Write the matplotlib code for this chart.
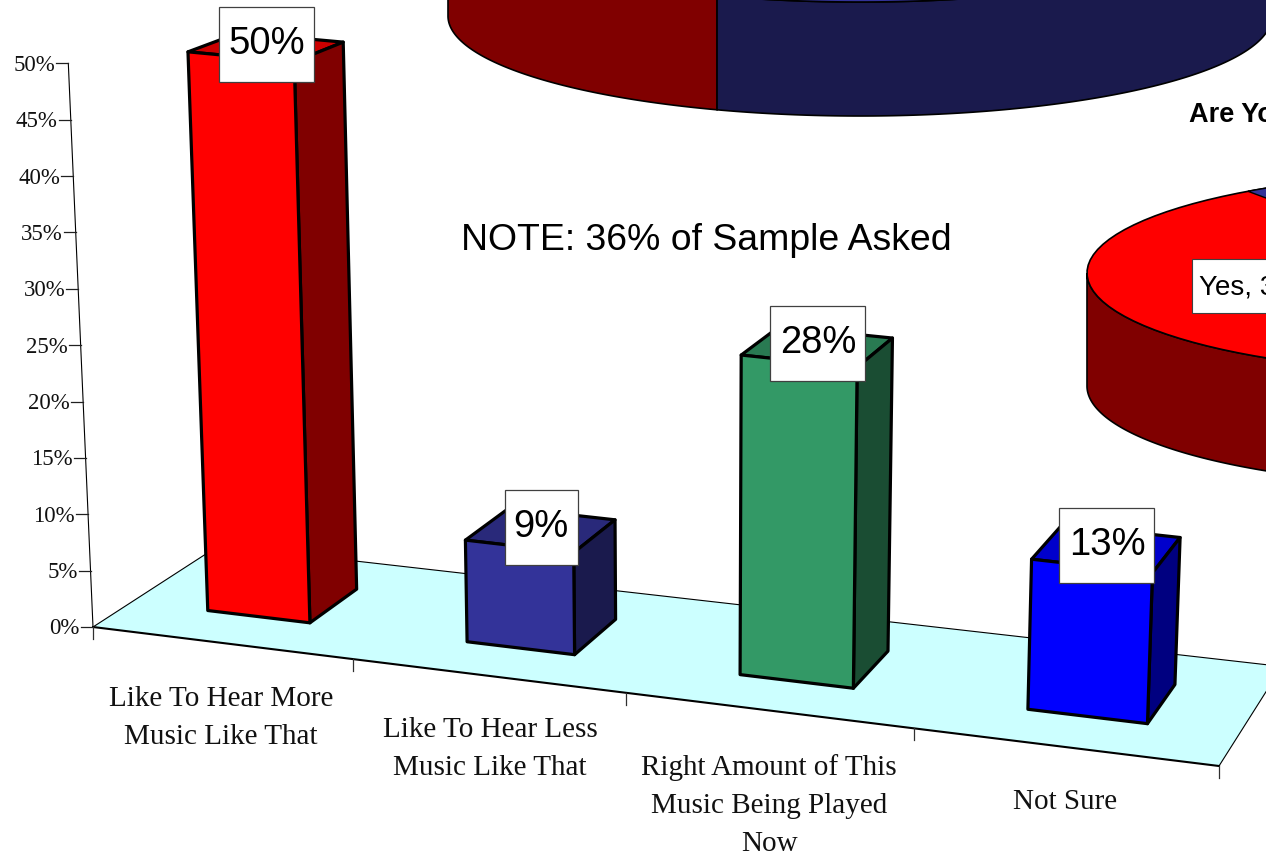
import numpy as np
import matplotlib
matplotlib.use('Agg')
import matplotlib.pyplot as plt
from matplotlib.patches import Polygon, Rectangle

# chart values
categories = ['Like To Hear More\nMusic Like That',
              'Like To Hear Less\nMusic Like That',
              'Right Amount of This\nMusic Being Played\nNow',
              'Not Sure']
values = [50, 9, 28, 13]
value_labels = ['50%', '9%', '28%', '13%']
y_ticks = [0, 5, 10, 15, 20, 25, 30, 35, 40, 45, 50]

front_colors = ['#FF0000', '#333399', '#339966', '#0000FF']
top_colors = ['#CC0000', '#29297A', '#297A52', '#0000CC']
side_colors = ['#800000', '#1A1A4D', '#1A4D33', '#000080']

# floor corners in pixels: front left, front right, back right, back left
floor_quad = [(93, 627), (1219, 766), (1282, 666.5), (219, 545.5)]
label_pos = [(221, 699), (490, 730), (769, 768), (1065, 802)]


def floor_matrix(quad):
    """Homography from the unit square to the floor quad"""
    (x0, y0), (x1, y1), (x2, y2), (x3, y3) = quad
    dx1, dx2, sx = x1 - x2, x3 - x2, x0 - x1 + x2 - x3
    dy1, dy2, sy = y1 - y2, y3 - y2, y0 - y1 + y2 - y3
    det = dx1 * dy2 - dx2 * dy1
    g = (sx * dy2 - dx2 * sy) / det
    h = (dx1 * sy - sx * dy1) / det
    return np.array([[x1 - x0 + g * x1, x3 - x0 + h * x3, x0],
                     [y1 - y0 + g * y1, y3 - y0 + h * y3, y0],
                     [g, h, 1.0]])


H = floor_matrix(floor_quad)


def project(slot, depth, value=0.0):
    """Category slot (0-4), depth (0-1) and value (%) to pixels"""
    p = H @ np.array([slot / 4.0, depth, 1.0])
    x, y = p[0] / p[2], p[1] / p[2]
    k = 11.08 + 0.00045 * x - 0.75 * (max(depth, 0.1) - 0.3)
    height = value * k
    return x + height * (x - 693) * 7.3e-5, y - height


def pie_arc(cx, cy, a, b, start, stop):
    t = np.radians(np.linspace(start, stop, 120))
    return np.column_stack([cx + a * np.cos(t), cy + b * np.sin(t)])


def pie_side(ax, cx, cy, a, b, depth, start, stop, color):
    upper = pie_arc(cx, cy, a, b, start, stop)
    lower = upper[::-1] + [0, depth]
    ax.add_patch(Polygon(np.vstack([upper, lower]), closed=True, fc=color, ec='black', lw=1.2))


fig = plt.figure(figsize=(12.66, 8.52), dpi=100)
ax = fig.add_axes([0, 0, 1, 1])
ax.set_xlim(0, 1266)
ax.set_ylim(852, 0)
ax.axis('off')

# big pie at the top, only its side shows
big = (860, -98, 412, 100)
big_split = 110.3
pie_side(ax, *big, 114, big_split, 180, '#800000')
pie_side(ax, *big, 114, 0, big_split, '#1A1A4D')
ax.add_patch(Polygon(pie_arc(*big, 0, 180), closed=True, fc='#333399', ec='black', lw=1.2))

# second pie, cut off on the right
small = (1467, 273, 380, 100)
pie_side(ax, *small, 113, 90, 180, '#800000')
ax.add_patch(Polygon(pie_arc(*small, 0, 360), closed=True, fc='#FF0000', ec='black', lw=1.2))
wedge = np.vstack([[small[:2]], pie_arc(*small, 234.8, 270)])
ax.add_patch(Polygon(wedge, closed=True, fc='#333399', ec='black', lw=1.0))
ax.add_patch(Rectangle((1192, 259), 120, 54, fc='white', ec='#404040', lw=0.8))
ax.text(1199, 288, 'Yes, 38%', family='Liberation Sans', fontsize=20, va='center', ha='left')
ax.text(1189, 115, 'Are You', family='Liberation Sans', fontsize=19.5, fontweight='bold',
        va='center', ha='left')

# floor
corners = [project(0, 0), project(4, 0), project(4, 1), project(0, 1)]
ax.add_patch(Polygon(corners, closed=True, fc='#CCFFFF', ec='none'))
ax.plot(*zip(corners[0], corners[1]), color='black', lw=1.5)
ax.plot(*zip(corners[3], corners[2]), color='black', lw=0.8)
ax.plot(*zip(corners[0], corners[3]), color='black', lw=0.8)
ax.plot(*zip(corners[1], corners[2]), color='black', lw=0.8)

# value axis
ax.plot(*zip(project(0, 0), project(0, 0, 50)), color='black', lw=0.8)
for v in y_ticks:
    x, y = project(0, 0, v)
    ax.plot([x - 12, x], [y, y], color='#202020', lw=0.9)
    ax.text(x - 13, y + 2, f'{v}%', family='Liberation Serif', fontsize=16.5, ha='right', va='center',
            color='#111111')

# category ticks and labels
for i in range(5):
    x, y = project(i, 0)
    ax.plot([x, x], [y, y + 12], color='#303030', lw=0.9)
for name, (x, y) in zip(categories, label_pos):
    for j, line in enumerate(name.split('\n')):
        ax.text(x, y + 38 * j, line, family='Liberation Serif', fontsize=21, ha='center',
                va='center', color='#111111')
ax.text(961, 864, 'Source: Area Survey', family='Liberation Serif', fontsize=21, ha='left', va='center',
        color='#111111')

# bars
for i, v in enumerate(values):
    u0, u1 = i + 0.3, i + 0.7
    d0, d1 = 0.3, 0.7
    top = [project(u0, d0, v), project(u1, d0, v), project(u1, d1, v), project(u0, d1, v)]
    front = [project(u0, d0), project(u1, d0), top[1], top[0]]
    side = [project(u1, d0), project(u1, d1), top[2], top[1]]
    for pts, c in [(top, top_colors[i]), (side, side_colors[i]), (front, front_colors[i])]:
        ax.add_patch(Polygon(pts, closed=True, fc=c, ec='black', lw=2.3, joinstyle='round', zorder=3))

    # value label box over the middle of the bar top
    cx, cy = project(i + 0.5, 0.5, v)
    w = 73 if len(value_labels[i]) == 2 else 95
    ax.add_patch(Rectangle((cx + 0.5 - w / 2, cy - 2.5 - 37.5), w, 75, fc='white', ec='#404040', lw=0.9,
                           zorder=5))
    ax.text(cx + 0.5, cy - 3, value_labels[i], family='Liberation Sans', fontsize=27.5, ha='center',
            va='center', color='black', zorder=6)

ax.text(461, 240, 'NOTE: 36% of Sample Asked', family='Liberation Sans', fontsize=26.9, ha='left',
        va='center', color='black')

fig.savefig('out.png', dpi=100)
